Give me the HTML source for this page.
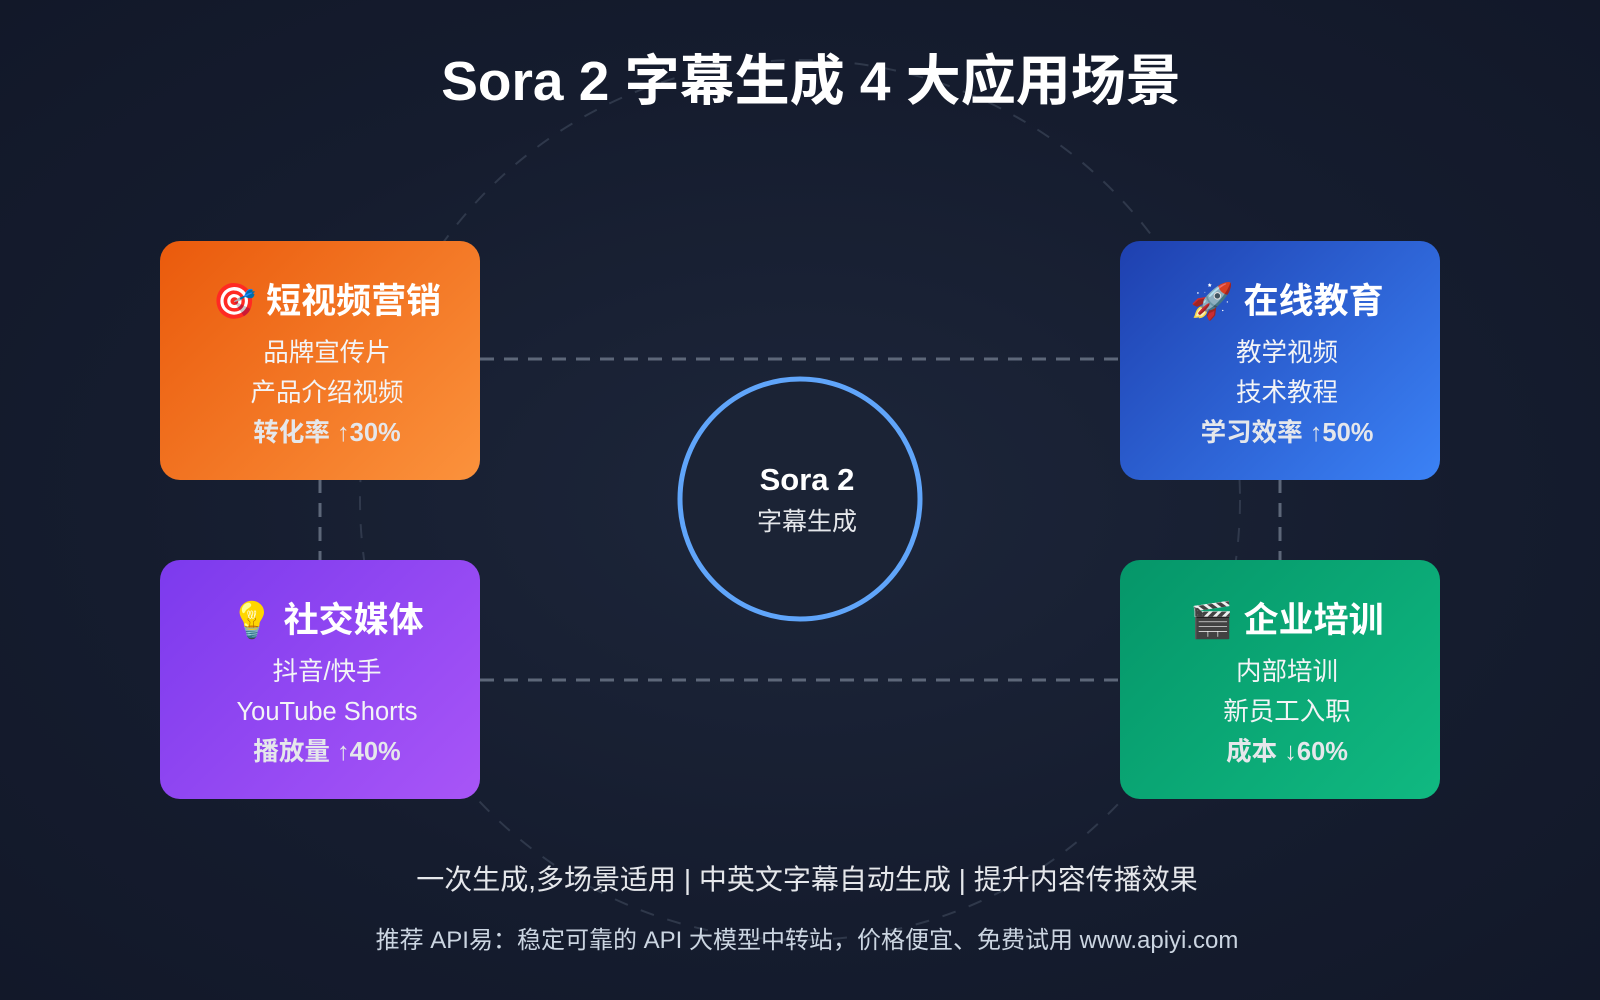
<!DOCTYPE html>
<html><head><meta charset="utf-8"><style>
*{margin:0;padding:0;box-sizing:border-box}
body{width:1600px;height:1000px;overflow:hidden;background:radial-gradient(ellipse at 50% 50%,#1d263a 0%,#151c2e 60%,#121829 100%);font-family:"Liberation Sans","Noto Sans CJK SC",sans-serif;position:relative;color:#fff}
.t{position:absolute;left:0;width:1600px;text-align:center;padding-left:14px}
.card{position:absolute;width:320px;height:239px;border-radius:20px;text-align:center;color:#fff}
.card h2{position:absolute;top:37px;left:0;width:100%;font-size:35px;font-weight:bold;line-height:48px;padding-left:14px}
.card .l{position:absolute;left:0;width:100%;font-size:25.5px;line-height:32px;color:#f3f4f6;padding-left:14px}
.card .b{font-weight:bold;color:#e5e7eb}
</style></head><body>
<svg width="1600" height="1000" style="position:absolute;left:0;top:0">
<circle cx="800" cy="500" r="440" fill="none" stroke="#3a4457" stroke-width="2" stroke-dasharray="14 14" opacity="0.7"/>
<g stroke="#5d6779" stroke-width="3" stroke-dasharray="14 10" fill="none">
<line x1="480" y1="359" x2="1120" y2="359"/>
<line x1="480" y1="680" x2="1120" y2="680"/>
<line x1="320" y1="479" x2="320" y2="560"/>
<line x1="1280" y1="479" x2="1280" y2="560"/>
</g>
<circle cx="800" cy="499" r="120" fill="#1b2335" stroke="#60a5fa" stroke-width="5"/>
</svg>
<div class="t" style="top:46px;font-size:55px;font-weight:bold;line-height:70px;padding-left:22px">Sora 2 字幕生成 4 大应用场景</div>
<div class="t" style="top:460px;font-size:31px;font-weight:bold;line-height:40px">Sora 2</div>
<div class="t" style="top:505px;font-size:25px;line-height:34px;color:#e5e7eb">字幕生成</div>

<div class="card" style="left:160px;top:241px;background:linear-gradient(135deg,#ea5a0c,#fb923c)">
<h2>🎯 短视频营销</h2><div class="l" style="top:96px">品牌宣传片</div><div class="l" style="top:136px">产品介绍视频</div><div class="l b" style="top:176px">转化率 ↑30%</div></div>
<div class="card" style="left:1120px;top:241px;background:linear-gradient(135deg,#1e40af,#3b82f6)">
<h2>🚀 在线教育</h2><div class="l" style="top:96px">教学视频</div><div class="l" style="top:136px">技术教程</div><div class="l b" style="top:176px">学习效率 ↑50%</div></div>
<div class="card" style="left:160px;top:560px;background:linear-gradient(135deg,#7c3aed,#a855f7)">
<h2>💡 社交媒体</h2><div class="l" style="top:96px">抖音/快手</div><div class="l" style="top:136px">YouTube Shorts</div><div class="l b" style="top:176px">播放量 ↑40%</div></div>
<div class="card" style="left:1120px;top:560px;background:linear-gradient(135deg,#059669,#10b981)">
<h2>🎬 企业培训</h2><div class="l" style="top:96px">内部培训</div><div class="l" style="top:136px">新员工入职</div><div class="l b" style="top:176px">成本 ↓60%</div></div>

<div class="t" style="top:862px;font-size:28px;line-height:36px;color:#e5e7eb">一次生成,多场景适用 | 中英文字幕自动生成 | 提升内容传播效果</div>
<div class="t" style="top:926px;font-size:24px;line-height:30px;color:#cbd5e1">推荐 API易：稳定可靠的 API 大模型中转站，价格便宜、免费试用 www.apiyi.com</div>
</body></html>
